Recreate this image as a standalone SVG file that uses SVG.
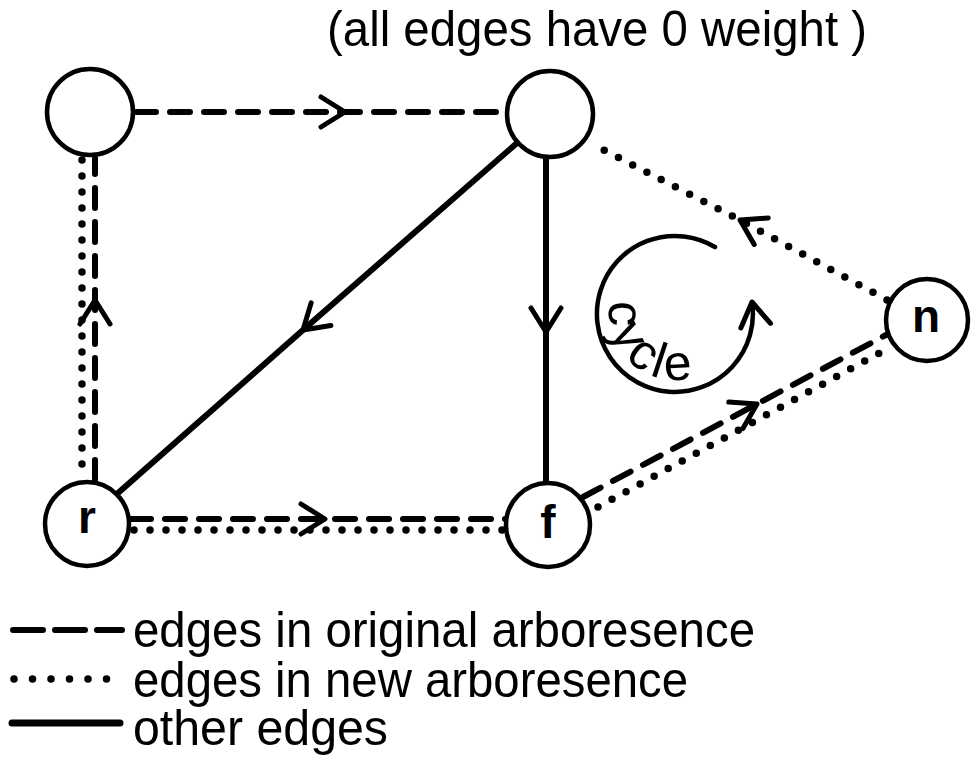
<svg xmlns="http://www.w3.org/2000/svg" width="971" height="759" viewBox="0 0 971 759">
<defs>
<style>
.node{fill:#fff;stroke:#000;stroke-width:4.5}
.lbl{font-family:"Liberation Sans",Arial,sans-serif;font-size:46px;font-weight:bold;fill:#000;text-anchor:middle}
.txt{font-family:"Liberation Sans",Arial,sans-serif;font-size:50px;fill:#000}
.solid{fill:none;stroke:#000;stroke-width:6;stroke-linecap:round}
.dash{fill:none;stroke:#000;stroke-width:6;stroke-linecap:round;stroke-dasharray:20 14}
.dot{fill:none;stroke:#000;stroke-width:7.5;stroke-linecap:round;stroke-dasharray:0 16}
.thin{fill:none;stroke:#000;stroke-width:4.5;stroke-linecap:round}
</style>
<marker id="arr" markerUnits="userSpaceOnUse" markerWidth="40" markerHeight="40" refX="0" refY="0" orient="auto" overflow="visible">
<path d="M -24,-15 L 0,0 L -24,15" fill="none" stroke="#000" stroke-width="5" stroke-linecap="round" stroke-linejoin="round"/>
</marker>
</defs>
<rect width="971" height="759" fill="#fff"/>
<text class="txt" x="327" y="46" font-size="47" textLength="540" lengthAdjust="spacingAndGlyphs">(all edges have 0 weight )</text>
<g id="connectors">
<path class="dash" d="M 136 112 L 345 112 L 506 112" marker-mid="url(#arr)"/>
<path class="dash" d="M 95 480 L 95 300 L 95 158" marker-mid="url(#arr)"/>
<path class="dot" d="M 82 160 L 82 480"/>
<path class="dash" d="M 131 519 L 325 519 L 506 519" marker-mid="url(#arr)"/>
<path class="dot" d="M 134 530 L 506 530"/>
<path class="solid" d="M 517 143 L 303 330 L 118 493" marker-mid="url(#arr)"/>
<path class="solid" d="M 546 157 L 546 332 L 546 483" marker-mid="url(#arr)"/>
<path class="dot" d="M 887 300 L 740 220 L 592 144" marker-mid="url(#arr)"/>
<path class="dash" d="M 583 497 L 757 404 L 886 335" marker-mid="url(#arr)"/>
<path class="dot" d="M 598 507 L 885 350"/>
</g>
<g id="cycle">
<path class="thin" d="M 715 247 A 78 78 0 1 0 752 302" marker-end="url(#arr)"/>
<path id="cyclepath" d="M 613 291.4 A 66 66 0 0 0 717.4 364.6" fill="none"/>
<text class="txt" font-size="46"><textPath href="#cyclepath" startOffset="10" textLength="134" lengthAdjust="spacing">cycle</textPath></text>
</g>
<g id="node-tl"><circle class="node" cx="90" cy="112" r="43"/></g>
<g id="node-tm"><circle class="node" cx="550" cy="114" r="43"/></g>
<g id="node-r"><circle class="node" cx="87" cy="524" r="42"/><text class="lbl" x="87" y="533">r</text></g>
<g id="node-f"><circle class="node" cx="548" cy="525" r="42"/><text class="lbl" x="548" y="538" font-size="40">f</text></g>
<g id="node-n"><circle class="node" cx="927" cy="320" r="41"/><text class="lbl" x="926" y="332">n</text></g>
<g id="legend">
<path class="dash" d="M 13 630 L 122 630" style="stroke-dasharray:30 12"/>
<path class="dot" d="M 14 679 L 125 679" style="stroke-dasharray:0 18.5"/>
<path class="solid" d="M 12 723 L 120 723" style="stroke-width:7"/>
<text class="txt" x="133" y="647" textLength="622" lengthAdjust="spacingAndGlyphs">edges in original arboresence</text>
<text class="txt" x="133" y="697" textLength="555" lengthAdjust="spacingAndGlyphs">edges in new arboresence</text>
<text class="txt" x="133" y="745" textLength="255" lengthAdjust="spacingAndGlyphs">other edges</text>
</g>
</svg>
